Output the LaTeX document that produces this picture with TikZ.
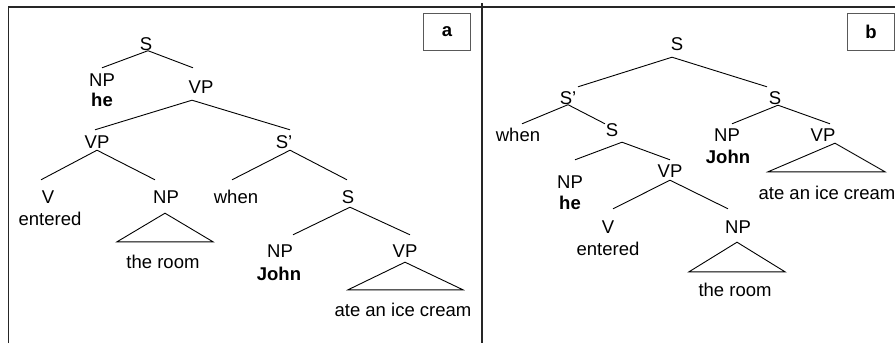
\documentclass[tikz,border=0pt]{standalone}
\usepackage{fontspec}
\setmainfont{Liberation Sans}
\begin{document}
\begin{tikzpicture}[x=1pt,y=-1pt,
  lab/.style={font=\fontsize{18.5}{20}\selectfont, inner sep=0pt,
              text height=13pt, text depth=0pt, anchor=base},
  bf/.style={lab, font=\fontsize{18.5}{20}\selectfont\bfseries},
  edge/.style={line width=0.9pt, black},
  frame/.style={line width=1.8pt, black!85},
  tagbox/.style={draw=black!65, line width=1.1pt, minimum width=47pt,
                 minimum height=37pt, inner sep=0pt, anchor=north west,
                 font=\fontsize{18.5}{20}\selectfont\bfseries}]
\useasboundingbox (0,0) rectangle (895,343);

% panel frames
\coordinate (ftl) at (8.5,7);
\coordinate (fbl) at (8.5,343);
\coordinate (ftr) at (895,7);
\coordinate (dtop) at (482,3);
\coordinate (dbot) at (482,343);
\draw[frame] (fbl) -- (ftl) -- (ftr);
\draw[frame] (dtop) -- (dbot);

% panel tags
\node[tagbox] (taga) at (423,13) {};
\node[font=\fontsize{18.5}{20}\selectfont\bfseries] (tagat) at (taga.center) {a};
\node[tagbox] (tagb) at (847,13) {};
\node[font=\fontsize{18.5}{20}\selectfont\bfseries] (tagbt) at (tagb.center) {b};

% ---------- tree a ----------
\node[lab] (aS)    at (146,50.5)  {S};
\node[lab] (aNP)   at (102,86.5)  {NP};
\node[bf]  (ahe)   at (102,106.5) {he};
\node[lab] (aVP)   at (201,93.5)  {VP};
\node[lab] (aVP2)  at (97,148.5)  {VP};
\node[lab] (aSp)   at (284,148.5) {S'};
\node[lab] (aV)    at (48,203.5)  {V};
\node[lab] (aent)  at (50,225.5)  {entered};
\node[lab] (aNP2)  at (166,203.5) {NP};
\node[lab] (aroom) at (163,268.5) {the room};
\node[lab] (awhen) at (236,203.5) {when};
\node[lab] (aS2)   at (348,203.5) {S};
\node[lab] (aNP3)  at (280,257.5) {NP};
\node[bf]  (aJohn) at (279,280.5) {John};
\node[lab] (aVP3)  at (405,257.5) {VP};
\node[lab] (aate)  at (403,316.5) {ate an ice cream};

\draw[edge] ([xshift=2]aS.south) -- ([shift={(0,-5.5)}]aNP.north);
\draw[edge] ([xshift=2]aS.south) -- ([shift={(-8,-12.5)}]aVP.north);
\draw[edge] ([shift={(-9,6.5)}]aVP.south) -- ([shift={(-2,-5.5)}]aVP2.north);
\draw[edge] ([shift={(-9,6.5)}]aVP.south) -- ([shift={(6,-5.5)}]aSp.north);
\draw[edge] ([shift={(0,1.5)}]aVP2.south) -- ([shift={(-7,-10.5)}]aV.north);
\draw[edge] ([shift={(0,1.5)}]aVP2.south) -- ([shift={(-11,-10.5)}]aNP2.north);
\draw[edge] ([shift={(6,1.5)}]aSp.south) -- ([shift={(-4,-10.5)}]awhen.north);
\draw[edge] ([shift={(6,1.5)}]aSp.south) -- ([shift={(-1,-10.5)}]aS2.north);
\draw[edge] ([shift={(2,3.5)}]aS2.south) -- ([shift={(13,-9.5)}]aNP3.north);
\draw[edge] ([shift={(2,3.5)}]aS2.south) -- ([shift={(5,-9.5)}]aVP3.north);
\draw[edge] ([shift={(-1,9.5)}]aNP2.south) -- ([shift={(-46,-13.5)}]aroom.north)
            -- ([shift={(50,-13.5)}]aroom.north) -- cycle;
\draw[edge] ([shift={(0,4.5)}]aVP3.south) -- ([shift={(-55,-13.5)}]aate.north)
            -- ([shift={(60,-13.5)}]aate.north) -- cycle;

% ---------- tree b ----------
\node[lab] (bS)    at (677,50.5)  {S};
\node[lab] (bSp)   at (568,104.5) {S'};
\node[lab] (bS2)   at (775,104.5) {S};
\node[lab] (bwhen) at (518,141.5) {when};
\node[lab] (bS3)   at (612,136.5) {S};
\node[lab] (bNP)   at (727,141.5) {NP};
\node[bf]  (bJohn) at (728,163.5) {John};
\node[lab] (bVP)   at (823,141.5) {VP};
\node[lab] (bate)  at (827,199.5) {ate an ice cream};
\node[lab] (bNP2)  at (570,188.5) {NP};
\node[bf]  (bhe)   at (570,209.5) {he};
\node[lab] (bVP2)  at (670,177.5) {VP};
\node[lab] (bV)    at (608,233.5) {V};
\node[lab] (bent)  at (608,255.5) {entered};
\node[lab] (bNP3)  at (738,233.5) {NP};
\node[lab] (broom) at (735,296.5) {the room};

\draw[edge] ([shift={(-5,6.5)}]bS.south) -- ([shift={(10,-4.5)}]bSp.north);
\draw[edge] ([shift={(-5,6.5)}]bS.south) -- ([shift={(-8,-4.5)}]bS2.north);
\draw[edge] (bSp.south) -- ([shift={(4,-4.5)}]bwhen.north);
\draw[edge] (bSp.south) -- ([shift={(-7,0.5)}]bS3.north);
\draw[edge] ([shift={(3,0.5)}]bS2.south) -- ([shift={(5,-4.5)}]bNP.north);
\draw[edge] ([shift={(3,0.5)}]bS2.south) -- ([shift={(7,-4.5)}]bVP.north);
\draw[edge] ([shift={(10,5.5)}]bS3.south) -- ([shift={(5,-15.5)}]bNP2.north);
\draw[edge] ([shift={(10,5.5)}]bS3.south) -- ([shift={(0,-4.5)}]bVP2.north);
\draw[edge] ([shift={(0,2.5)}]bVP2.south) -- ([shift={(5,-11.5)}]bV.north);
\draw[edge] ([shift={(0,2.5)}]bVP2.south) -- ([shift={(-10,-11.5)}]bNP3.north);
\draw[edge] ([shift={(12,1.5)}]bVP.south) -- ([shift={(-59,-14.5)}]bate.north)
            -- ([shift={(58,-14.5)}]bate.north) -- cycle;
\draw[edge] ([shift={(-1,8.5)}]bNP3.south) -- ([shift={(-46,-11.5)}]broom.north)
            -- ([shift={(50,-11.5)}]broom.north) -- cycle;
\end{tikzpicture}
\end{document}
